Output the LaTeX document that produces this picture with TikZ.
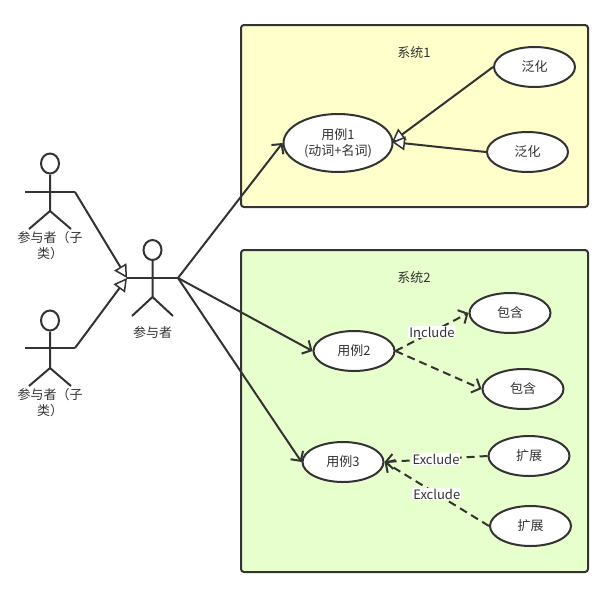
\documentclass[tikz,border=0pt]{standalone}
\usepackage{fontspec}
\setmainfont{Noto Sans CJK SC}
\usetikzlibrary{shapes.geometric,arrows.meta}
\definecolor{sysyellow}{HTML}{FFFFCC}
\definecolor{sysgreen}{HTML}{E6FFCC}
\definecolor{inkgray}{HTML}{333333}
\begin{document}
\begin{tikzpicture}[x=1pt,y=-1pt,line width=2pt,draw=inkgray,text=inkgray,font=\fontsize{13}{16}\selectfont]
  \useasboundingbox(0,0) rectangle (612,597);
  \tikzset{S/.style = {draw,rounded corners=3pt,minimum width=347pt,inner sep=0pt}}
  \tikzset{U/.style = {shape=ellipse,draw,fill=white,minimum width=81pt,minimum height=40pt,inner sep=0pt,align=center}}
  \tikzset{H/.style = {shape=ellipse,draw,fill=white,minimum width=18pt,minimum height=20pt,inner sep=0pt}}
  \tikzset{T/.style = {align=center,inner sep=0pt}}
  \tikzset{L/.style = {fill=white,inner sep=1pt}}
  \tikzset{G/.style = {draw,-{Triangle[open,fill=white,length=13pt,width=14pt,line width=1.5pt]}}}
  \tikzset{A/.style = {draw,-{Straight Barb[length=7pt,width=15pt]}}}
  \tikzset{D/.style = {A,dashed,dash pattern=on 8pt off 5pt}}
  % system boxes
  \node[S,fill=sysyellow,minimum height=182pt](sys1) at (414.5,116) {};
  \node[S,fill=sysgreen,minimum height=322pt](sys2) at (414.5,411) {};
  \node[T](sys1t) at (414,53) {系统1};
  \node[T](sys2t) at (414,278) {系统2};
  % actors
  \node[H](h1) at (50,163.5) {};
  \coordinate (la1) at (25,192);
  \coordinate (ra1) at (75,192);
  \coordinate (w1) at (50,211);
  \coordinate (lf1) at (29,229);
  \coordinate (rf1) at (71,229);
  \node[T](t1) at (50,246) {参与者（子\\类）};
  \node[H](h2) at (50,320.5) {};
  \coordinate (la2) at (25,348);
  \coordinate (ra2) at (75,348);
  \coordinate (w2) at (50,368);
  \coordinate (lf2) at (29,386);
  \coordinate (rf2) at (71,386);
  \node[T](t2) at (50,403) {参与者（子\\类）};
  \node[H](h0) at (152.5,250) {};
  \coordinate (la0) at (127,278);
  \coordinate (ra0) at (178,278);
  \coordinate (w0) at (152.5,297);
  \coordinate (lf0) at (132,316);
  \coordinate (rf0) at (173,316);
  \node[T](t0) at (152.5,333) {参与者};
  \draw (h1) -- (w1) -- (lf1);
  \draw (w1) -- (rf1);
  \draw (la1) -- (ra1);
  \draw (h2) -- (w2) -- (lf2);
  \draw (w2) -- (rf2);
  \draw (la2) -- (ra2);
  \draw (h0) -- (w0) -- (lf0);
  \draw (w0) -- (rf0);
  \draw (la0) -- (ra0);
  % use cases
  \node[U,minimum width=109pt,minimum height=58pt](uc1) at (338,143) {用例1\\(动词+名词)};
  \node[U](fh1) at (534.5,67) {泛化};
  \node[U](fh2) at (527.5,152) {泛化};
  \node[U](uc2) at (354,351) {用例2};
  \node[U](bh1) at (510,313) {包含};
  \node[U](bh2) at (523,389) {包含};
  \node[U](uc3) at (343,462) {用例3};
  \node[U](kz1) at (529,456) {扩展};
  \node[U](kz2) at (530.5,526) {扩展};
  \coordinate (ge) at (392,142);
  % edges
  \draw[G](ra1) to (la0);
  \draw[G](ra2) to (la0);
  \draw[A](ra0) to (uc1.west);
  \draw[A](ra0) to (uc2.west);
  \draw[A](ra0) to (uc3.west);
  \draw[G](fh1.west) to (ge);
  \draw[G](fh2.west) to (ge);
  \draw[D](uc2.east) to node[L]{Include} (bh1.west);
  \draw[D](uc2.east) to (bh2.west);
  \draw[D](kz1.west) to node[L]{Exclude} (uc3.east);
  \draw[D](kz2.west) to node[L]{Exclude} (uc3.east);
\end{tikzpicture}
\end{document}
